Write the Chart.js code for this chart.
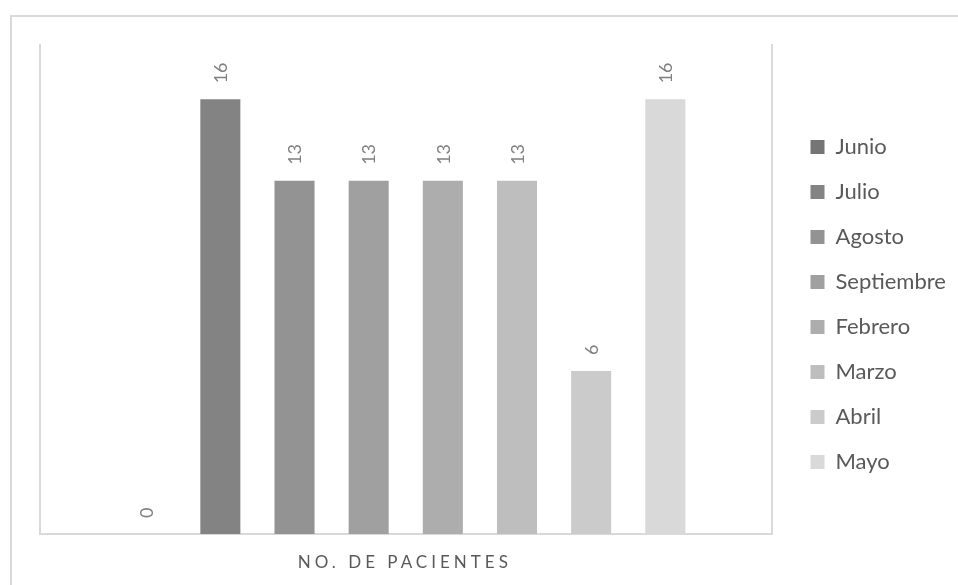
<!DOCTYPE html>
<html>
<head>
<meta charset="utf-8">
<script src="https://cdn.jsdelivr.net/npm/chart.js@4.4.0/dist/chart.umd.min.js"></script>
<style>
  html, body { margin: 0; padding: 0; background: #fff; overflow: hidden; }
  #wrap { position: relative; width: 958px; height: 585px; }
  #frame { position: absolute; left: 10px; top: 15px; width: 1000px; height: 1000px; border: 2px solid #d9d9d9; box-sizing: border-box; }
  #chart { position: absolute; left: 0; top: 0; }
</style>
</head>
<body>
<div id="wrap">
  <div id="frame"></div>
  <canvas id="chart" width="958" height="585"></canvas>
</div>
<script>
// data
const category = 'NO. DE PACIENTES';
const months = ['Junio', 'Julio', 'Agosto', 'Septiembre', 'Febrero', 'Marzo', 'Abril', 'Mayo'];
const pacientes = [0, 16, 13, 13, 13, 13, 6, 16];
const yMax = 18;

const grays = ['#757575', '#838383', '#939393', '#a0a0a0', '#adadad', '#bebebe', '#cbcbcb', '#d9d9d9'];

// rotated value labels above each bar
const barLabels = {
    id: 'barLabels',
    afterDatasetsDraw(chart) {
        const ctx = chart.ctx;
        ctx.save();
        ctx.font = '18px Lato';
        ctx.fillStyle = '#808080';
        ctx.textAlign = 'left';
        ctx.textBaseline = 'middle';
        chart.data.datasets.forEach((ds, i) => {
            const bar = chart.getDatasetMeta(i).data[0];
            ctx.save();
            ctx.translate(bar.x + 1, bar.y - 16);
            ctx.rotate(-Math.PI / 2);
            ctx.fillText(String(ds.data[0]), 0, 0);
            ctx.restore();
        });
        ctx.restore();
    }
};

// category name under the axis, spaced out like the original
const categoryLabel = {
    id: 'categoryLabel',
    afterDraw(chart) {
        const ctx = chart.ctx;
        const x = chart.scales.x;
        ctx.save();
        ctx.letterSpacing = '4px';
        ctx.font = '17px Lato';
        ctx.fillStyle = '#595959';
        ctx.textAlign = 'center';
        ctx.textBaseline = 'middle';
        ctx.fillText(chart.data.labels[0], x.getPixelForValue(0) - 1, chart.chartArea.bottom + 29);
        ctx.restore();
    }
};

new Chart(document.getElementById('chart'), {
    type: 'bar',
    data: {
        labels: [category],
        datasets: months.map((m, i) => ({
            label: m,
            data: [pacientes[i]],
            backgroundColor: grays[i],
            borderWidth: 0,
            categoryPercentage: 0.811,
            barPercentage: 0.54
        }))
    },
    options: {
        responsive: false,
        animation: false,
        devicePixelRatio: 1,
        layout: { padding: { top: 45, right: 13, bottom: 21, left: 0 } },
        scales: {
            x: {
                grid: { display: false, drawTicks: false },
                border: { display: true, color: '#d9d9d9', width: 2 },
                ticks: { display: false },
                afterFit: s => { s.height = 30; }
            },
            y: {
                min: 0,
                max: yMax,
                grid: { display: false, drawTicks: false },
                border: { display: true, color: '#d9d9d9', width: 2 },
                ticks: { display: false },
                afterFit: s => { s.width = 40; }
            },
            y2: {
                position: 'right',
                min: 0,
                max: yMax,
                grid: { display: false, drawTicks: false },
                border: { display: true, color: '#d9d9d9', width: 2 },
                ticks: { display: false },
                afterFit: s => { s.width = 16; }
            }
        },
        plugins: {
            tooltip: { enabled: false },
            legend: {
                position: 'right',
                labels: {
                    boxWidth: 14,
                    boxHeight: 14,
                    padding: 23,
                    color: '#595959',
                    font: { family: 'Lato', size: 22 }
                }
            }
        }
    },
    plugins: [barLabels, categoryLabel]
});
</script>
</body>
</html>
